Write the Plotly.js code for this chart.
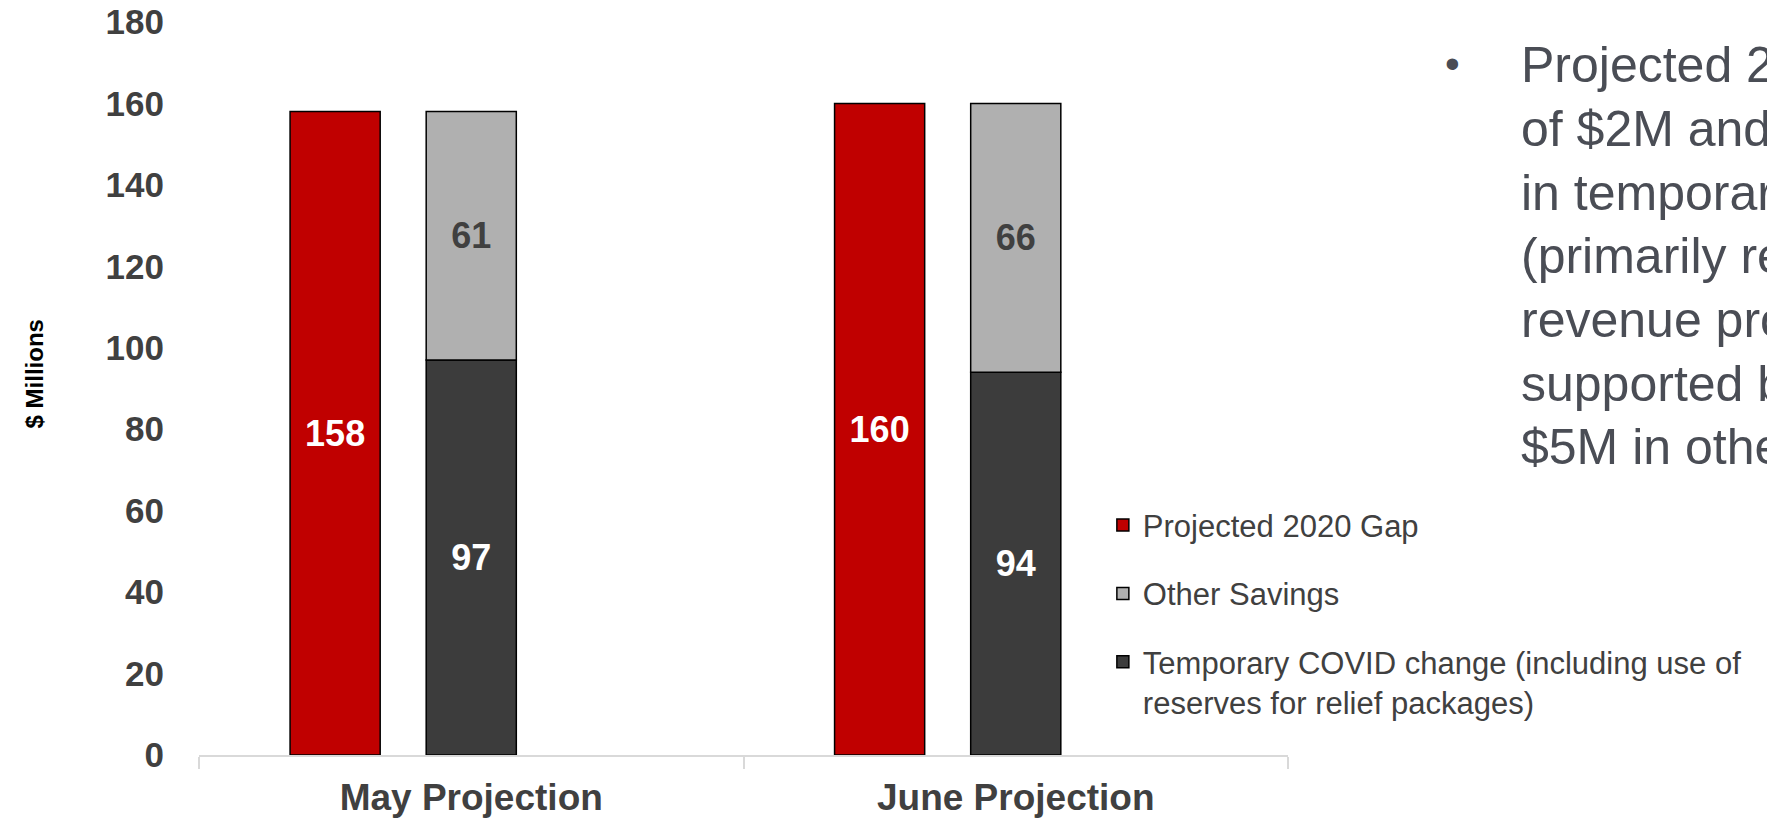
<!DOCTYPE html>
<html>
<head>
<meta charset="utf-8">
<script src="https://cdn.plot.ly/plotly-3.0.1.min.js"></script>
<style>
html,body{margin:0;padding:0;background:#fff;overflow:hidden;}
#chart{width:1767px;height:820px;}
</style>
</head>
<body>
<div id="chart"></div>
<script>
const categories = ["May Projection", "June Projection"];
const projectedGap = [158, 160];
const otherSavings = [61, 66];
const temporaryCovid = [97, 94];
const spacer = [0, 0];
const seriesNames = [
  "Projected 2020 Gap",
  "Other Savings",
  "Temporary COVID change (including use of<br>reserves for relief packages)"
];
const yTicks = [0, 20, 40, 60, 80, 100, 120, 140, 160, 180];
const bulletLines = [
  "Projected 2020",
  "of $2M and",
  "in temporary",
  "(primarily re",
  "revenue pro",
  "supported by",
  "$5M in other"
];

const FONT = "Liberation Sans, Arial, sans-serif";
const outline = {color: "#000000", width: 1.5};

const traces = [
  {
    type: "bar", name: seriesNames[0], x: categories, y: projectedGap,
    offsetgroup: "a", legendgroup: "g1", legendrank: 1,
    marker: {color: "#C00000", line: outline},
    text: projectedGap.map(String), textposition: "inside", insidetextanchor: "middle",
    insidetextfont: {family: FONT, size: 36, color: "#FFFFFF", weight: "bold"},
    hoverinfo: "skip"
  },
  {
    type: "bar", name: seriesNames[2], x: categories, y: temporaryCovid,
    offsetgroup: "b", legendgroup: "g3", legendrank: 3,
    marker: {color: "#3C3C3C", line: outline},
    text: temporaryCovid.map(String), textposition: "inside", insidetextanchor: "middle",
    insidetextfont: {family: FONT, size: 36, color: "#FFFFFF", weight: "bold"},
    hoverinfo: "skip"
  },
  {
    type: "bar", name: seriesNames[1], x: categories, y: otherSavings, base: temporaryCovid,
    offsetgroup: "b", legendgroup: "g2", legendrank: 2,
    marker: {color: "#B0B0B0", line: outline},
    text: otherSavings.map(String), textposition: "inside", insidetextanchor: "middle",
    insidetextfont: {family: FONT, size: 36, color: "#404040", weight: "bold"},
    hoverinfo: "skip"
  },
  {
    type: "bar", name: "", x: categories, y: spacer,
    offsetgroup: "c", showlegend: false,
    marker: {color: "rgba(0,0,0,0)", line: {width: 0}},
    hoverinfo: "skip"
  }
];

const annotations = [
  {
    text: "<b>$ Millions</b>", xref: "paper", yref: "paper",
    x: -0.151, y: 0.52, xanchor: "center", yanchor: "middle",
    textangle: -90, showarrow: false,
    font: {family: FONT, size: 24, color: "#000000"}
  },
  {
    text: "•", xref: "paper", yref: "paper",
    x: 1.1515, y: 0.944, xanchor: "center", yanchor: "middle",
    showarrow: false, font: {family: FONT, size: 42, color: "#4A4D55"}
  }
];
const lineTop = 0.941, linePitch = 0.0869;
bulletLines.forEach(function (line, i) {
  annotations.push({
    text: line, xref: "paper", yref: "paper",
    x: 1.212, y: lineTop - i * linePitch, xanchor: "left", yanchor: "middle", align: "left",
    showarrow: false, font: {family: FONT, size: 50, color: "#4A4D55"}
  });
});

const layout = {
  width: 1767, height: 820,
  margin: {l: 199, r: 479, t: 22, b: 65, pad: 0},
  paper_bgcolor: "#FFFFFF", plot_bgcolor: "#FFFFFF",
  barmode: "group", bargap: 0.25, bargroupgap: 0.338,
  showlegend: true,
  legend: {
    x: 0.83, y: 0.35, xanchor: "left", yanchor: "top", valign: "top",
    traceorder: "grouped", tracegroupgap: 25,
    font: {family: FONT, size: 31, color: "#404040"},
    bgcolor: "rgba(0,0,0,0)", itemclick: false
  },
  xaxis: {
    type: "category", automargin: false,
    showline: true, linecolor: "#D9D9D9", linewidth: 2,
    ticks: "outside", tickson: "boundaries", ticklen: 12, tickcolor: "#D9D9D9", tickwidth: 2,
    ticklabelstandoff: 9,
    showgrid: false, zeroline: false,
    tickfont: {family: FONT, size: 37, color: "#404040", weight: "bold"}
  },
  yaxis: {
    range: [0, 180], tickvals: yTicks, ticktext: yTicks.map(String),
    automargin: false, showline: false, showgrid: false, zeroline: false,
    ticks: "", ticklabelstandoff: 34,
    tickfont: {family: FONT, size: 35, color: "#404040", weight: "bold"}
  },
  annotations: annotations,
  font: {family: FONT}
};

Plotly.newPlot("chart", traces, layout, {staticPlot: true, displayModeBar: false});
</script>
</body>
</html>
